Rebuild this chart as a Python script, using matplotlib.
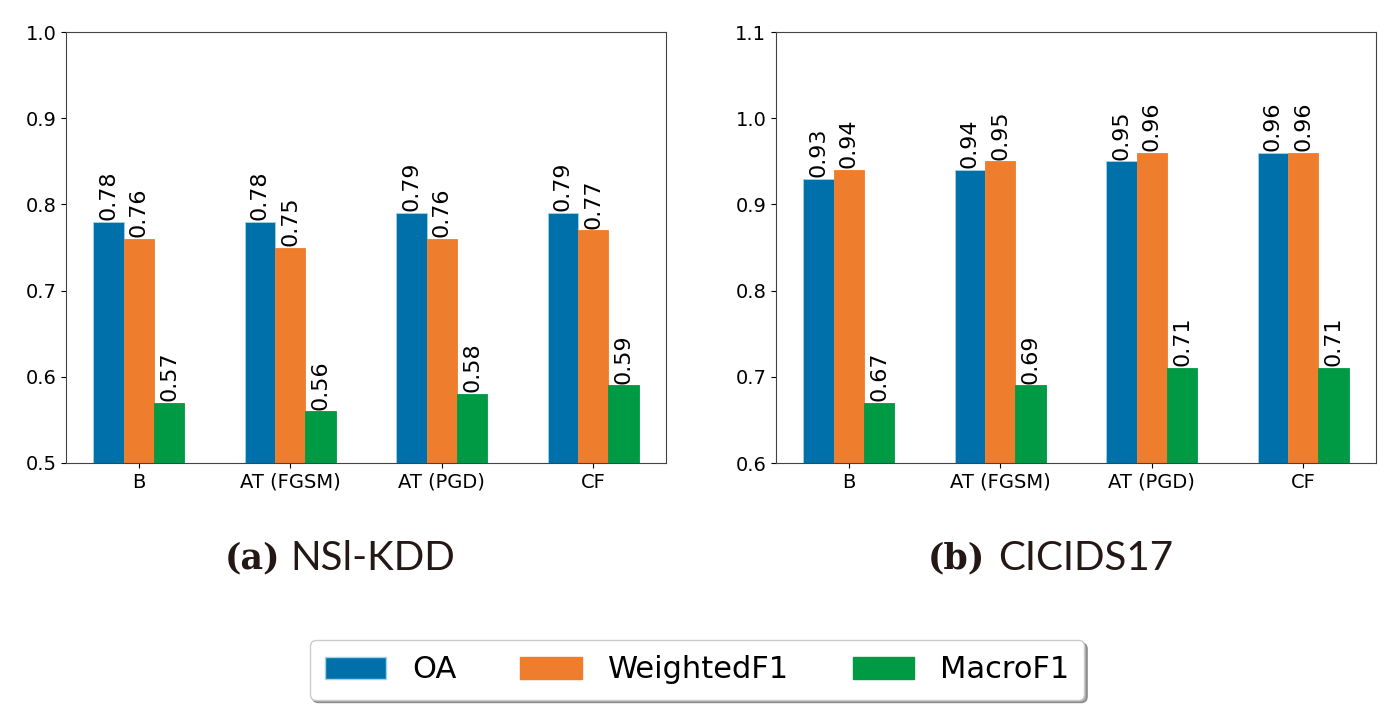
import numpy as np
import matplotlib.pyplot as plt
from matplotlib.patches import Patch

# ---------------------------
# DATA
# ---------------------------
methods = ["B", "AT (FGSM)", "AT (PGD)", "CF"]
series_names = ["OA", "WeightedF1", "MacroF1"]
colors = ["#0070AA", "#EE7D2E", "#009944"]

nsl_oa = [0.78, 0.78, 0.79, 0.79]
nsl_wf1 = [0.76, 0.75, 0.76, 0.77]
nsl_mf1 = [0.57, 0.56, 0.58, 0.59]

cic_oa = [0.93, 0.94, 0.95, 0.96]
cic_wf1 = [0.94, 0.95, 0.96, 0.96]
cic_mf1 = [0.67, 0.69, 0.71, 0.71]

# ---------------------------
# FIGURE
# ---------------------------
fig = plt.figure(figsize=(14, 7.06), dpi=100)
ax1 = fig.add_axes([66/1400, 1-463/706, 600/1400, 431/706])
ax2 = fig.add_axes([776/1400, 1-463/706, 600/1400, 431/706])

width = 0.2
x = np.arange(len(methods))


def draw_panel(ax, vals, ylim, yticks):
    for i, (v, c) in enumerate(zip(vals, colors)):
        bars = ax.bar(x + (i - 1) * width, v, width=width, color=c,
                      edgecolor="#9fd3e8" if i == 0 else c, linewidth=0.6,
                      label=series_names[i])
        for b, val in zip(bars, v):
            ax.text(b.get_x() + b.get_width() / 2, val + 0.002, f"{val:.2f}",
                    rotation=90, ha="center", va="bottom", fontsize=16)
    ax.set_xticks(x)
    ax.set_xticklabels(methods, fontsize=14)
    ax.set_ylim(*ylim)
    ax.set_yticks(yticks)
    ax.set_yticklabels([f"{t:.1f}" for t in yticks], fontsize=14)
    for s in ax.spines.values():
        s.set_color("#444444")


draw_panel(ax1, [nsl_oa, nsl_wf1, nsl_mf1], (0.5, 1.0), [0.5, 0.6, 0.7, 0.8, 0.9, 1.0])
draw_panel(ax2, [cic_oa, cic_wf1, cic_mf1], (0.6, 1.1), [0.6, 0.7, 0.8, 0.9, 1.0, 1.1])

# captions
cap_y = 1 - 558/706
fig.text(280/1400, cap_y, "(a)", ha="right", va="center", fontsize=25,
         family="DejaVu Serif", weight="bold", color="#231815")
fig.text(290/1400, cap_y, "NSl-KDD", ha="left", va="center", fontsize=29,
         family="Lato", color="#231815")
fig.text(985/1400, cap_y, "(b)", ha="right", va="center", fontsize=25,
         family="DejaVu Serif", weight="bold", color="#231815")
fig.text(998/1400, cap_y, "CICIDS17", ha="left", va="center", fontsize=29,
         family="Lato", color="#231815")

# legend
handles = [Patch(facecolor=c, edgecolor="#9fd3e8" if i == 0 else c)
           for i, c in enumerate(colors)]
fig.legend(handles, series_names, loc="center", bbox_to_anchor=(697/1400, 1-670/706),
           ncol=3, fontsize=22, shadow=True, fancybox=True, borderpad=0.5,
           handlelength=2.0, handleheight=0.72, columnspacing=2.1, handletextpad=0.85)

fig.savefig("out.png", dpi=100)
